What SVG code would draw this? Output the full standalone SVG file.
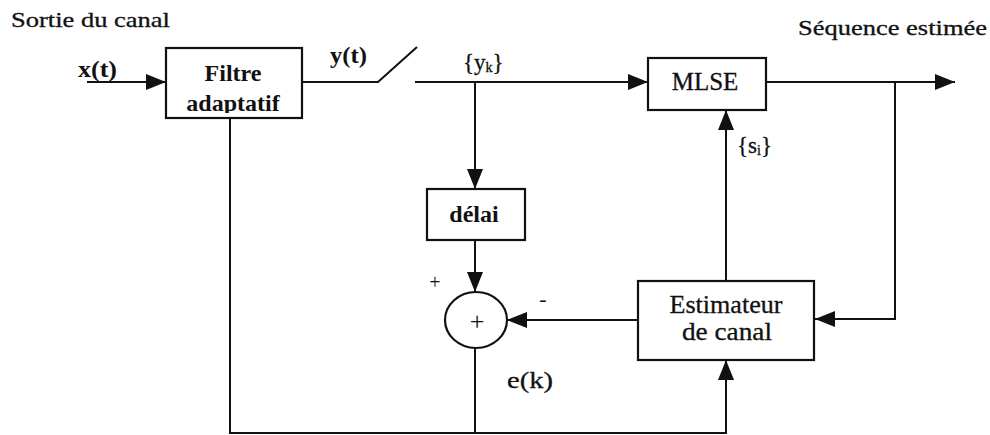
<svg xmlns="http://www.w3.org/2000/svg" width="990" height="435" viewBox="0 0 990 435">
<style>
text{font-family:'Liberation Serif','Times New Roman',serif;fill:#111;}
.r{stroke:#111;stroke-width:0.3;}
.b{font-weight:bold;}
.box{fill:#fff;stroke:#111;stroke-width:2.2;}
.ln{fill:none;stroke:#111;stroke-width:2;}
</style>
<defs>
<marker id="ar" markerUnits="userSpaceOnUse" markerWidth="20" markerHeight="16" refX="20" refY="8" orient="auto">
<path d="M0,0 L20,8 L0,16 z" fill="#111"/>
</marker>
<clipPath id="fclip"><rect x="166" y="48" width="136" height="65"/></clipPath>
</defs>
<rect width="990" height="435" fill="#fff"/>
<text class="r" x="11" y="27" font-size="21" textLength="159" lengthAdjust="spacingAndGlyphs">Sortie du canal</text>
<text class="r" x="798" y="35" font-size="21" textLength="189" lengthAdjust="spacingAndGlyphs">Séquence estimée</text>
<g id="connectors">
<path class="ln" d="M87 82 H166" marker-end="url(#ar)"/>
<path class="ln" d="M302 82 H378 L417 47"/>
<path class="ln" d="M415 82 H648" marker-end="url(#ar)"/>
<path class="ln" d="M766 82 H955" marker-end="url(#ar)"/>
<path class="ln" d="M895 82 V319 H815" marker-end="url(#ar)"/>
<path class="ln" d="M475 82 V189" marker-end="url(#ar)"/>
<path class="ln" d="M475 240 V292" marker-end="url(#ar)"/>
<path class="ln" d="M638 320 H507" marker-end="url(#ar)"/>
<path class="ln" d="M726 281 V110" marker-end="url(#ar)"/>
<path class="ln" d="M230 118 V433 H726 V360" marker-end="url(#ar)"/>
<path class="ln" d="M475 348 V433"/>
<text class="b" x="78" y="77" font-size="24" textLength="39" lengthAdjust="spacingAndGlyphs">x(t)</text>
<text class="b" x="330" y="63" font-size="24" textLength="37" lengthAdjust="spacingAndGlyphs">y(t)</text>
<text class="r" x="463" y="70" font-size="23">{y<tspan font-size="14" dy="2">k</tspan><tspan dy="-2">}</tspan></text>
<text class="r" x="737" y="153" font-size="23">{s<tspan font-size="14" dy="2">i</tspan><tspan dy="-2">}</tspan></text>
<text class="r" x="507" y="388" font-size="24" textLength="46" lengthAdjust="spacingAndGlyphs">e(k)</text>
<text x="435" y="289" font-size="20" text-anchor="middle">+</text>
<text x="543" y="306" font-size="22" text-anchor="middle">-</text>
</g>
<g id="filtre">
<rect class="box" x="166" y="48" width="136" height="70"/>
<text class="b" x="233" y="81" font-size="24" text-anchor="middle">Filtre</text>
<text class="b" x="233" y="111" font-size="24" text-anchor="middle" clip-path="url(#fclip)">adaptatif</text>
</g>
<g id="mlse">
<rect class="box" x="648" y="58" width="118" height="52"/>
<text class="r" x="705" y="90" font-size="25" text-anchor="middle">MLSE</text>
</g>
<g id="delai">
<rect class="box" x="427" y="189" width="98" height="51"/>
<text class="b" x="474" y="222" font-size="24" text-anchor="middle">délai</text>
</g>
<g id="sommateur">
<ellipse cx="476" cy="320" rx="31" ry="28" fill="#fff" stroke="#111" stroke-width="2.2"/>
<text x="477" y="330" font-size="26" text-anchor="middle">+</text>
</g>
<g id="estimateur">
<rect class="box" x="638" y="281" width="176" height="79"/>
<text class="r" x="726" y="313" font-size="25" text-anchor="middle" textLength="113" lengthAdjust="spacingAndGlyphs">Estimateur</text>
<text class="r" x="727" y="340" font-size="25" text-anchor="middle" textLength="90" lengthAdjust="spacingAndGlyphs">de canal</text>
</g>
</svg>
